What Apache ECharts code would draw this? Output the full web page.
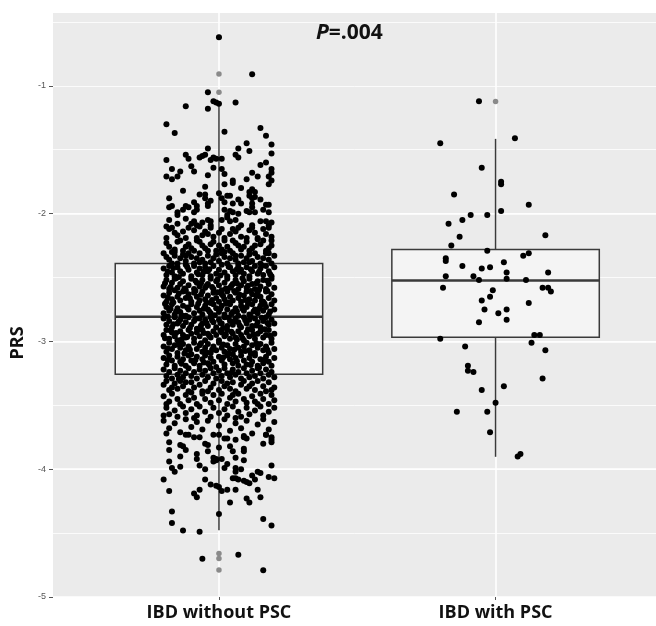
<!DOCTYPE html>
<html>
<head>
<meta charset="utf-8">
<script src="https://cdn.jsdelivr.net/npm/echarts@6/dist/echarts.min.js"></script>
<style>
  html, body { margin: 0; padding: 0; background: #fff; }
  #chart { width: 656px; height: 626px; }
</style>
</head>
<body>
<div id="chart"></div>
<script>
const categories = ['IBD without PSC', 'IBD with PSC']
const yTicks = [-5, -4, -3, -2, -1]

// box stats per group: lower whisker, Q1, median, Q3, upper whisker
const boxWithoutPsc = [-4.477, -3.256, -2.807, -2.39, -1.138]
const boxWithPsc = [-3.903, -2.967, -2.523, -2.28, -1.415]

// boxplot outliers (drawn at group centre)
const outliersWithoutPsc = [-0.62, -0.908, -1.05, -4.659, -4.698, -4.789]
const outliersWithPsc = [-1.122]

// jittered points: [offset from group centre, PRS]
const jitterWithoutPscTop = [
  [0,-0.62],[0.12,-0.91],[-0.04,-1.05],[-0.02,-1.12],[-0.01,-1.13],[0,-1.14],[0.06,-1.13],[-0.12,-1.16],[-0.04,-1.18],
  [-0.19,-1.3],[-0.16,-1.37],[0.15,-1.33],[0.02,-1.36],[0.17,-1.39],[0.19,-1.46],[0.1,-1.45],[0.07,-1.49],[-0.04,-1.49],[0.11,-1.51],
  [0.19,-1.53],[0.06,-1.54],[0.07,-1.56],[-0.12,-1.54],[-0.11,-1.57],[-0.19,-1.58],[-0.07,-1.56],[-0.06,-1.55],[-0.05,-1.54],
  [-0.03,-1.58],[-0.02,-1.56],[-0.01,-1.57],[0.01,-1.57],[-0.02,-1.64],[-0.1,-1.63],[-0.09,-1.67],[-0.17,-1.65],[-0.14,-1.67],
  [-0.19,-1.71],[-0.17,-1.73],[-0.15,-1.71],[0.01,-1.65],[0.02,-1.69],[-0.04,-1.7],[0.15,-1.62],[0.17,-1.6],[0.12,-1.68],
  [0.14,-1.71],[0.19,-1.65],[0.19,-1.68],[0.18,-1.71],[0.19,-1.74],[0.18,-1.77],[0.1,-1.73],[0.05,-1.74],[0.05,-1.76],
  [0.08,-1.8],[0.02,-1.77],[-0.05,-1.79],[-0.13,-1.82],[-0.18,-1.88],[-0.17,-1.94],[-0.18,-1.95],[-0.07,-1.85],[-0.05,-1.85],
  [-0.05,-1.88],[-0.04,-1.92],[-0.03,-1.9],[-0.04,-1.94],[-0.09,-1.91],[-0.08,-1.94],[-0.08,-1.97],[-0.09,-1.99],[-0.12,-1.94],
  [-0.11,-1.95],[-0.13,-1.97],[-0.15,-1.99],[0,-1.84],[0.01,-1.88],[0.03,-1.86],[0.04,-1.86],[0.02,-1.91],[0.05,-1.92],
  [0.07,-1.89],[0.08,-1.92],[0.11,-1.83],[0.12,-1.81],[0.13,-1.83],[0.11,-1.86],[0.12,-1.88],[0.13,-1.87],[0.12,-1.92],
  [0.12,-1.95],[0.15,-1.89],[0.17,-1.93],[0.16,-1.97],[0.18,-1.93],[0.18,-1.99],[0.1,-1.98],[0.11,-1.99],[0.13,-1.99],
  [0.04,-1.98],[0.05,-1.99],[0.07,-2.0],[0.02,-1.97],[0.03,-2.01],[-0.18,-2.05],[-0.19,-2.1],[-0.12,-2.04],[-0.1,-2.08],
  [-0.09,-2.06],[-0.08,-2.09],[-0.07,-2.1],[-0.06,-2.07],[-0.04,-2.05],[-0.03,-2.06],[-0.03,-2.09],[0.01,-2.05],[0.03,-2.03],
  [0.04,-2.06],[0.06,-2.05],[0.08,-2.09],[0.12,-2.09],[0.15,-2.06],[0.17,-2.06],[0.18,-2.09],[0.19,-2.07],[-0.15,-2.08],[-0.15,-2.01]
]

const jitterWithoutPscMid = [
  [-0.18,-2.12],[-0.15,-2.17],[-0.11,-2.11],[-0.08,-2.19],[-0.05,-2.14],[-0.02,-2.18],[0.01,-2.12],[0.04,-2.16],[0.07,-2.11],
  [0.1,-2.19],[0.13,-2.15],[0.16,-2.12],[0.19,-2.18],[-0.19,-2.19],[-0.13,-2.14],[-0.09,-2.13],[-0.03,-2.11],[0.02,-2.19],
  [0.06,-2.14],[0.11,-2.13],[0.17,-2.16],[-0.16,-2.15],[-0.06,-2.17],[0.08,-2.18],[0.14,-2.19],[-0.12,-2.19],[0,-2.15],
  [0.18,-2.11],[-0.17,-2.11],[0.05,-2.12],[-0.04,-2.16],[0.12,-2.11],
  [-0.19,-2.23],[-0.16,-2.28],[-0.14,-2.21],[-0.12,-2.26],[-0.09,-2.29],[-0.07,-2.22],[-0.05,-2.27],[-0.03,-2.24],[-0.01,-2.29],
  [0.02,-2.21],[0.03,-2.26],[0.06,-2.23],[0.08,-2.28],[0.1,-2.22],[0.12,-2.27],[0.15,-2.24],[0.17,-2.29],[0.19,-2.21],
  [-0.18,-2.26],[-0.15,-2.22],[-0.11,-2.24],[-0.08,-2.21],[-0.04,-2.29],[0,-2.25],[0.04,-2.29],[0.07,-2.25],[0.11,-2.29],
  [0.14,-2.2],[0.18,-2.27],[-0.17,-2.3],[-0.13,-2.29],[-0.06,-2.25],[0.05,-2.21],[0.09,-2.26],[0.13,-2.25],[0.16,-2.21],
  [-0.02,-2.22],[-0.1,-2.27],[0.19,-2.25],[0.01,-2.28],
  [-0.2,-2.31],[-0.18,-2.36],[-0.16,-2.33],[-0.15,-2.39],[-0.13,-2.32],[-0.12,-2.37],[-0.1,-2.34],[-0.09,-2.39],[-0.07,-2.31],
  [-0.06,-2.36],[-0.04,-2.33],[-0.03,-2.38],[-0.01,-2.32],[0,-2.37],[0.02,-2.34],[0.03,-2.39],[0.05,-2.31],[0.06,-2.36],
  [0.08,-2.33],[0.09,-2.38],[0.11,-2.32],[0.12,-2.37],[0.14,-2.34],[0.15,-2.39],[0.17,-2.31],[0.18,-2.36],[0.2,-2.33],
  [-0.19,-2.34],[-0.17,-2.39],[-0.14,-2.35],[-0.11,-2.31],[-0.08,-2.35],[-0.05,-2.39],[-0.02,-2.35],[0.01,-2.31],[0.04,-2.35],
  [0.07,-2.39],[0.1,-2.35],[0.13,-2.31],[0.16,-2.35],[0.19,-2.39],[-0.16,-2.3],[-0.07,-2.38],[0.02,-2.3],[0.11,-2.38],
  [0.18,-2.31],[-0.12,-2.33],[0.06,-2.33],
  [-0.2,-2.43],[-0.19,-2.48],[-0.18,-2.41],[-0.17,-2.46],[-0.16,-2.49],[-0.15,-2.42],[-0.14,-2.45],[-0.13,-2.47],[-0.12,-2.4],
  [-0.11,-2.44],[-0.1,-2.49],[-0.09,-2.41],[-0.08,-2.46],[-0.07,-2.43],[-0.06,-2.48],[-0.05,-2.42],[-0.04,-2.45],[-0.03,-2.49],
  [-0.02,-2.41],[-0.01,-2.47],[0,-2.44],[0.01,-2.4],[0.02,-2.46],[0.03,-2.49],[0.04,-2.42],[0.05,-2.45],[0.06,-2.48],
  [0.07,-2.41],[0.08,-2.44],[0.09,-2.47],[0.1,-2.42],[0.11,-2.49],[0.12,-2.45],[0.13,-2.41],[0.14,-2.47],[0.15,-2.43],
  [0.16,-2.48],[0.17,-2.41],[0.18,-2.45],[0.19,-2.49],[0.2,-2.42],[-0.185,-2.455],[-0.145,-2.495],[-0.115,-2.415],
  [-0.075,-2.475],[-0.035,-2.435],[0.005,-2.485],[0.035,-2.415],[0.075,-2.455],[0.115,-2.435],[0.155,-2.405],[0.185,-2.475],
  [-0.165,-2.425],[-0.055,-2.455],[0.065,-2.435],[0.145,-2.455],
  [-0.2,-2.57],[-0.19,-2.52],[-0.18,-2.59],[-0.17,-2.54],[-0.16,-2.51],[-0.15,-2.58],[-0.14,-2.55],[-0.13,-2.53],[-0.12,-2.6],
  [-0.11,-2.56],[-0.1,-2.51],[-0.09,-2.59],[-0.08,-2.54],[-0.07,-2.57],[-0.06,-2.52],[-0.05,-2.58],[-0.04,-2.55],[-0.03,-2.51],
  [-0.02,-2.59],[-0.01,-2.53],[0,-2.56],[0.01,-2.6],[0.02,-2.54],[0.03,-2.51],[0.04,-2.58],[0.05,-2.55],[0.06,-2.52],
  [0.07,-2.59],[0.08,-2.56],[0.09,-2.53],[0.1,-2.58],[0.11,-2.51],[0.12,-2.55],[0.13,-2.59],[0.14,-2.53],[0.15,-2.57],
  [0.16,-2.52],[0.17,-2.59],[0.18,-2.55],[0.19,-2.51],[0.2,-2.58],[-0.195,-2.545],[-0.155,-2.505],[-0.125,-2.585],
  [-0.085,-2.525],[-0.045,-2.565],[-0.005,-2.515],[0.025,-2.585],[0.065,-2.545],[0.105,-2.565],[0.145,-2.595],[0.175,-2.525],
  [-0.175,-2.575],[-0.065,-2.545],[0.045,-2.565],[0.135,-2.545],[-0.025,-2.575],[0.085,-2.505],
  [-0.2,-2.64],[-0.19,-2.69],[-0.18,-2.62],[-0.17,-2.67],[-0.16,-2.6],[-0.15,-2.65],[-0.14,-2.68],[-0.13,-2.61],[-0.12,-2.66],
  [-0.11,-2.63],[-0.1,-2.69],[-0.09,-2.62],[-0.08,-2.65],[-0.07,-2.68],[-0.06,-2.61],[-0.05,-2.67],[-0.04,-2.64],[-0.03,-2.7],
  [-0.02,-2.62],[-0.01,-2.66],[0,-2.69],[0.01,-2.63],[0.02,-2.67],[0.03,-2.61],[0.04,-2.65],[0.05,-2.68],[0.06,-2.62],
  [0.07,-2.66],[0.08,-2.69],[0.09,-2.64],[0.1,-2.61],[0.11,-2.67],[0.12,-2.63],[0.13,-2.68],[0.14,-2.62],[0.15,-2.65],
  [0.16,-2.69],[0.17,-2.61],[0.18,-2.66],[0.19,-2.63],[0.2,-2.68],[-0.185,-2.655],[-0.145,-2.625],[-0.105,-2.665],
  [-0.065,-2.635],[-0.025,-2.675],[0.015,-2.645],[0.055,-2.605],[0.095,-2.675],[0.135,-2.645],[0.175,-2.605],[-0.165,-2.695],
  [-0.125,-2.605],[-0.045,-2.695],[0.035,-2.695],[0.115,-2.605],[0.155,-2.685],[-0.085,-2.605],[0.075,-2.635],[-0.005,-2.615],
  [-0.2,-2.78],[-0.19,-2.73],[-0.18,-2.76],[-0.17,-2.71],[-0.16,-2.79],[-0.15,-2.74],[-0.14,-2.77],[-0.13,-2.72],[-0.12,-2.8],
  [-0.11,-2.75],[-0.1,-2.71],[-0.09,-2.78],[-0.08,-2.73],[-0.07,-2.76],[-0.06,-2.79],[-0.05,-2.72],[-0.04,-2.75],[-0.03,-2.78],
  [-0.02,-2.71],[-0.01,-2.74],[0,-2.77],[0.01,-2.72],[0.02,-2.79],[0.03,-2.75],[0.04,-2.71],[0.05,-2.77],[0.06,-2.74],
  [0.07,-2.8],[0.08,-2.72],[0.09,-2.76],[0.1,-2.73],[0.11,-2.79],[0.12,-2.71],[0.13,-2.75],[0.14,-2.78],[0.15,-2.72],
  [0.16,-2.76],[0.17,-2.73],[0.18,-2.79],[0.19,-2.71],[0.2,-2.75],[-0.195,-2.705],[-0.155,-2.765],[-0.115,-2.735],
  [-0.075,-2.705],[-0.035,-2.765],[0.005,-2.745],[0.045,-2.785],[0.085,-2.745],[0.125,-2.765],[0.165,-2.705],[-0.175,-2.745],
  [-0.135,-2.795],[-0.055,-2.745],[0.025,-2.705],[0.065,-2.765],[0.105,-2.705],[0.145,-2.745],[0.185,-2.765],[-0.015,-2.795],
  [-0.2,-2.82],[-0.19,-2.87],[-0.18,-2.84],[-0.17,-2.89],[-0.16,-2.81],[-0.15,-2.86],[-0.14,-2.83],[-0.13,-2.88],[-0.12,-2.85],
  [-0.11,-2.81],[-0.1,-2.87],[-0.09,-2.84],[-0.08,-2.9],[-0.07,-2.82],[-0.06,-2.86],[-0.05,-2.83],[-0.04,-2.88],[-0.03,-2.81],
  [-0.02,-2.85],[-0.01,-2.89],[0,-2.83],[0.01,-2.86],[0.02,-2.81],[0.03,-2.88],[0.04,-2.84],[0.05,-2.87],[0.06,-2.82],
  [0.07,-2.85],[0.08,-2.89],[0.09,-2.81],[0.1,-2.86],[0.11,-2.83],[0.12,-2.88],[0.13,-2.82],[0.14,-2.85],[0.15,-2.89],
  [0.16,-2.84],[0.17,-2.81],[0.18,-2.87],[0.19,-2.83],[0.2,-2.86],[-0.185,-2.805],[-0.145,-2.845],[-0.105,-2.895],
  [-0.065,-2.875],[-0.025,-2.835],[0.015,-2.895],[0.055,-2.845],[0.095,-2.835],[0.135,-2.875],[0.175,-2.855],[-0.165,-2.865],
  [-0.125,-2.805],[-0.045,-2.855],[0.035,-2.815],[0.075,-2.875],[0.115,-2.805],[0.155,-2.815],[-0.085,-2.825],[0.005,-2.855],
  [-0.2,-2.95],[-0.19,-2.91],[-0.18,-2.98],[-0.17,-2.93],[-0.16,-2.96],[-0.15,-2.99],[-0.14,-2.92],[-0.13,-2.95],[-0.12,-2.97],
  [-0.11,-2.91],[-0.1,-2.94],[-0.09,-2.98],[-0.08,-2.93],[-0.07,-2.96],[-0.06,-2.91],[-0.05,-2.99],[-0.04,-2.94],[-0.03,-2.97],
  [-0.02,-2.92],[-0.01,-2.95],[0,-2.99],[0.01,-2.93],[0.02,-2.96],[0.03,-2.91],[0.04,-2.98],[0.05,-2.94],[0.06,-2.97],
  [0.07,-2.92],[0.08,-2.95],[0.09,-2.99],[0.1,-2.93],[0.11,-2.96],[0.12,-2.91],[0.13,-2.98],[0.14,-2.94],[0.15,-2.92],
  [0.16,-2.97],[0.17,-2.95],[0.18,-2.91],[0.19,-2.98],[0.2,-2.94],[-0.195,-2.975],[-0.155,-2.935],[-0.115,-2.965],
  [-0.075,-2.905],[-0.035,-2.955],[0.005,-2.915],[0.045,-2.925],[0.085,-2.975],[0.125,-2.945],[0.165,-2.905],[-0.175,-2.915],
  [-0.135,-2.985],[-0.055,-2.935],[0.025,-2.945],[0.065,-2.985],[0.105,-2.905],[0.185,-2.955],
  [-0.2,-3.04],[-0.19,-3.08],[-0.18,-3.01],[-0.17,-3.06],[-0.16,-3.03],[-0.15,-3.09],[-0.14,-3.05],[-0.13,-3.02],[-0.12,-3.07],
  [-0.11,-3.04],[-0.1,-3.1],[-0.09,-3.01],[-0.08,-3.06],[-0.07,-3.03],[-0.06,-3.08],[-0.05,-3.05],[-0.04,-3.02],[-0.03,-3.09],
  [-0.02,-3.04],[-0.01,-3.07],[0,-3.01],[0.01,-3.05],[0.02,-3.08],[0.03,-3.03],[0.04,-3.06],[0.05,-3.1],[0.06,-3.02],
  [0.07,-3.05],[0.08,-3.08],[0.09,-3.04],[0.1,-3.01],[0.11,-3.07],[0.12,-3.03],[0.13,-3.09],[0.14,-3.05],[0.15,-3.02],
  [0.16,-3.07],[0.17,-3.04],[0.18,-3.09],[0.19,-3.01],[0.2,-3.06],[-0.185,-3.055],[-0.145,-3.025],[-0.105,-3.065],
  [-0.065,-3.015],[-0.025,-3.065],[0.015,-3.025],[0.055,-3.065],[0.095,-3.075],[0.135,-3.015],[0.175,-3.065],[-0.125,-3.095],
  [-0.045,-3.085],[0.035,-3.095],[0.115,-3.095],
  [-0.2,-3.13],[-0.19,-3.18],[-0.18,-3.11],[-0.17,-3.15],[-0.16,-3.19],[-0.15,-3.12],[-0.14,-3.16],[-0.13,-3.14],[-0.12,-3.19],
  [-0.11,-3.11],[-0.1,-3.15],[-0.09,-3.17],[-0.08,-3.12],[-0.07,-3.19],[-0.06,-3.14],[-0.05,-3.11],[-0.04,-3.17],[-0.03,-3.13],
  [-0.02,-3.16],[-0.01,-3.2],[0,-3.12],[0.01,-3.15],[0.02,-3.18],[0.03,-3.11],[0.04,-3.14],[0.05,-3.17],[0.06,-3.13],
  [0.07,-3.19],[0.08,-3.11],[0.09,-3.15],[0.1,-3.18],[0.11,-3.13],[0.12,-3.16],[0.13,-3.11],[0.14,-3.19],[0.15,-3.14],
  [0.16,-3.17],[0.17,-3.12],[0.18,-3.16],[0.19,-3.19],[0.2,-3.13],[-0.185,-3.145],[-0.135,-3.175],[-0.085,-3.145],
  [-0.035,-3.185],[0.015,-3.125],[0.065,-3.155],[0.115,-3.185],[0.165,-3.145],[-0.055,-3.165],
  [-0.2,-3.22],[-0.19,-3.27],[-0.18,-3.24],[-0.17,-3.29],[-0.16,-3.21],[-0.15,-3.26],[-0.14,-3.23],[-0.13,-3.28],[-0.12,-3.25],
  [-0.11,-3.21],[-0.1,-3.27],[-0.09,-3.24],[-0.08,-3.29],[-0.07,-3.22],[-0.06,-3.26],[-0.05,-3.23],[-0.04,-3.28],[-0.03,-3.21],
  [-0.02,-3.25],[-0.01,-3.29],[0,-3.23],[0.01,-3.27],[0.02,-3.21],[0.03,-3.25],[0.04,-3.28],[0.05,-3.22],[0.06,-3.26],
  [0.07,-3.24],[0.08,-3.29],[0.09,-3.21],[0.1,-3.25],[0.11,-3.28],[0.12,-3.23],[0.13,-3.27],[0.14,-3.21],[0.15,-3.25],
  [0.16,-3.29],[0.17,-3.22],[0.18,-3.26],[0.19,-3.24],[0.2,-3.28],[-0.145,-3.295],[0.045,-3.245],[0.145,-3.205],
  [-0.2,-3.34],[-0.19,-3.31],[-0.18,-3.38],[-0.16,-3.33],[-0.15,-3.37],[-0.14,-3.31],[-0.13,-3.35],[-0.11,-3.39],[-0.1,-3.32],
  [-0.09,-3.36],[-0.07,-3.34],[-0.06,-3.39],[-0.05,-3.31],[-0.03,-3.36],[-0.02,-3.33],[0,-3.38],[0.01,-3.31],[0.02,-3.35],
  [0.04,-3.37],[0.05,-3.32],[0.06,-3.39],[0.08,-3.34],[0.09,-3.31],[0.1,-3.37],[0.12,-3.33],[0.13,-3.38],[0.14,-3.31],
  [0.16,-3.35],[0.17,-3.39],[0.18,-3.32],[0.2,-3.36],[-0.17,-3.36],[-0.12,-3.32],[-0.04,-3.39],[0.03,-3.33],[0.11,-3.35],[0.19,-3.38],
  [-0.2,-3.43],[-0.18,-3.47],[-0.17,-3.41],[-0.15,-3.45],[-0.14,-3.49],[-0.12,-3.42],[-0.11,-3.46],[-0.09,-3.44],[-0.08,-3.49],
  [-0.06,-3.41],[-0.05,-3.45],[-0.03,-3.48],[-0.02,-3.42],[0,-3.46],[0.01,-3.41],[0.03,-3.49],[0.04,-3.44],[0.06,-3.47],
  [0.07,-3.41],[0.09,-3.45],[0.1,-3.48],[0.12,-3.43],[0.13,-3.47],[0.15,-3.41],[0.16,-3.45],[0.18,-3.49],[0.19,-3.42],
  [0.2,-3.46],[-0.19,-3.49],[-0.1,-3.4],[0.05,-3.42],[0.14,-3.49],
  [-0.19,-3.52],[-0.18,-3.57],[-0.16,-3.54],[-0.15,-3.59],[-0.13,-3.51],[-0.12,-3.56],[-0.1,-3.53],[-0.08,-3.58],[-0.07,-3.51],
  [-0.05,-3.55],[-0.03,-3.59],[-0.02,-3.52],[0,-3.56],[0.02,-3.53],[0.03,-3.58],[0.05,-3.51],[0.07,-3.55],[0.08,-3.59],
  [0.1,-3.52],[0.11,-3.57],[0.13,-3.54],[0.15,-3.51],[0.16,-3.58],[0.18,-3.55],[0.2,-3.52],[-0.2,-3.58],[0.06,-3.6],[-0.09,-3.6],
  [-0.2,-3.62],[-0.18,-3.68],[-0.16,-3.64],[-0.14,-3.71],[-0.12,-3.61],[-0.1,-3.67],[-0.08,-3.63],[-0.06,-3.69],[-0.04,-3.62],
  [-0.02,-3.73],[0,-3.66],[0.02,-3.61],[0.04,-3.7],[0.06,-3.64],[0.08,-3.68],[0.1,-3.62],[0.12,-3.72],[0.14,-3.65],
  [0.16,-3.61],[0.18,-3.69],[0.2,-3.63],[-0.11,-3.73],[-0.19,-3.72],[0.09,-3.74],[0.17,-3.73]
]

const jitterWithoutPscLow = [
  [-0.12,-3.73],[-0.09,-3.75],[-0.07,-3.75],[0,-3.73],[0.02,-3.76],[0.03,-3.76],[0.06,-3.77],[0.09,-3.75],[0.1,-3.76],
  [0.17,-3.73],[0.19,-3.75],[0.19,-3.77],[0.19,-3.79],
  [-0.18,-3.79],[-0.18,-3.85],[-0.14,-3.81],[-0.13,-3.82],[-0.12,-3.85],[-0.14,-3.9],[-0.05,-3.8],[-0.04,-3.81],[-0.04,-3.86],
  [-0.08,-3.88],[-0.08,-3.92],[-0.18,-3.94],[-0.17,-3.99],[-0.16,-4.02],[-0.14,-3.98],[-0.07,-3.97],[-0.05,-4.0],[-0.02,-3.91],
  [-0.01,-3.92],[-0.01,-3.93],[-0.02,-3.94],[0,-3.83],[0.04,-3.82],[0.05,-3.86],[0.01,-3.92],[0.03,-3.96],[0.02,-3.99],
  [0.06,-3.91],[0.09,-3.84],[0.09,-3.86],[0.09,-3.93],[0.06,-3.99],[0.06,-4.02],[0.08,-4.0],[0.05,-4.07],[0.06,-4.07],
  [0.07,-4.08],[0.09,-4.09],[0.1,-4.1],[0.11,-4.11],[0.12,-4.05],[0.13,-4.08],[0.14,-4.02],[0.15,-4.03],[0.16,-3.8],
  [0.18,-4.06],[0.2,-4.07],[0.19,-3.97],[-0.2,-4.08],[-0.05,-4.08],[-0.03,-4.12],[-0.01,-4.13],[0,-4.14],[0.01,-4.17],
  [0.03,-4.16],[0.06,-4.16],[0.14,-4.16],[-0.18,-4.17],[-0.09,-4.19],[-0.08,-4.22],[-0.07,-4.16],[0.04,-4.26],[0.1,-4.23],
  [0.11,-4.26],[0.15,-4.22],[-0.17,-4.33],[0,-4.35],[-0.17,-4.42],[0.16,-4.39],[0.19,-4.44],[-0.13,-4.48],[-0.07,-4.49],
  [-0.06,-4.7],[0.07,-4.67],[0.16,-4.79]
]

const jitterWithPsc = [
  [-0.06,-1.12],[-0.2,-1.45],[0.07,-1.41],[-0.05,-1.64],[0.02,-1.77],[0.02,-1.75],[-0.15,-1.85],[0.12,-1.93],[0.02,-1.98],
  [-0.09,-2.01],[-0.03,-2.01],[-0.12,-2.05],[-0.17,-2.08],[0.18,-2.17],[-0.13,-2.18],[-0.16,-2.25],[-0.03,-2.29],[0.12,-2.31],
  [0.1,-2.33],[-0.18,-2.35],[-0.18,-2.37],[-0.12,-2.41],[0.03,-2.38],[-0.05,-2.43],[-0.02,-2.42],[0.04,-2.46],[0.19,-2.46],
  [-0.18,-2.49],[-0.08,-2.49],[0.04,-2.51],[-0.06,-2.52],[0.11,-2.52],[-0.19,-2.58],[0.17,-2.58],[0.19,-2.58],[0.2,-2.61],
  [-0.01,-2.6],[-0.02,-2.65],[-0.05,-2.68],[0.12,-2.7],[-0.04,-2.75],[0.04,-2.75],[0.01,-2.78],[0.04,-2.83],[-0.06,-2.85],
  [0.14,-2.95],[0.16,-2.95],[-0.2,-2.98],[0.13,-3.01],[-0.11,-3.04],[0.18,-3.07],[-0.1,-3.19],[-0.1,-3.23],[-0.08,-3.24],
  [0.17,-3.29],[0.03,-3.35],[-0.05,-3.38],[0,-3.48],[-0.14,-3.55],[-0.03,-3.55],[-0.02,-3.71],[0.08,-3.9],[0.09,-3.88]
]

const BOX_WIDTH = 0.75
const boxLine = '#3a3a3a'

const boxData = [[1, ...boxWithoutPsc], [2, ...boxWithPsc]]
const outlierData = outliersWithoutPsc.map(v => [1, v]).concat(outliersWithPsc.map(v => [2, v]))
const jitterData = jitterWithoutPscTop.concat(jitterWithoutPscMid, jitterWithoutPscLow)
  .map(p => [1 + p[0], p[1]])
  .concat(jitterWithPsc.map(p => [2 + p[0], p[1]]))

const renderBox = (params, api) => {
  const x = api.value(0)
  const lo = api.coord([x, api.value(1)])
  const q1 = api.coord([x, api.value(2)])
  const med = api.coord([x, api.value(3)])
  const q3 = api.coord([x, api.value(4)])
  const hi = api.coord([x, api.value(5)])
  const half = api.size([BOX_WIDTH, 0])[0] / 2
  const line = { stroke: boxLine, lineWidth: 1.5 }
  return {
    type: 'group',
    children: [
      { type: 'line', shape: { x1: hi[0], y1: hi[1], x2: q3[0], y2: q3[1] }, style: line },
      { type: 'line', shape: { x1: q1[0], y1: q1[1], x2: lo[0], y2: lo[1] }, style: line },
      {
        type: 'rect',
        shape: { x: q3[0] - half, y: q3[1], width: half * 2, height: q1[1] - q3[1] },
        style: { fill: '#f4f4f4', stroke: boxLine, lineWidth: 1.5 }
      },
      {
        type: 'line',
        shape: { x1: med[0] - half, y1: med[1], x2: med[0] + half, y2: med[1] },
        style: { stroke: boxLine, lineWidth: 2.6 }
      }
    ]
  }
}

const chart = echarts.init(document.getElementById('chart'))
chart.setOption({
  animation: false,
  title: {
    text: '{i|P}{n|=.004}',
    left: 316,
    top: 23,
    padding: 0,
    textStyle: {
      rich: {
        i: { fontFamily: 'Open Sans', fontSize: 21, fontWeight: 'bold', fontStyle: 'italic', color: '#111' },
        n: { fontFamily: 'Open Sans', fontSize: 21, fontWeight: 'bold', color: '#111' }
      }
    }
  },
  graphic: [
    {
      type: 'text',
      x: 18,
      y: 343,
      rotation: Math.PI / 2,
      style: {
        text: 'PRS',
        fontFamily: 'Open Sans',
        fontSize: 18,
        fontWeight: 'bold',
        fill: '#111',
        textAlign: 'center',
        textVerticalAlign: 'middle'
      }
    }
  ],
  grid: {
    left: 53,
    right: 0,
    top: 13,
    bottom: 29,
    show: true,
    backgroundColor: '#ebebeb',
    borderWidth: 0
  },
  xAxis: {
    type: 'value',
    min: 0.4,
    max: 2.58,
    axisLine: { show: false },
    axisTick: { show: true, length: 3, lineStyle: { color: '#555' }, customValues: [1, 2] },
    axisLabel: {
      customValues: [1, 2],
      formatter: v => categories[Math.round(v) - 1],
      fontFamily: 'Open Sans',
      fontSize: 18,
      fontWeight: 'bold',
      color: '#111',
      margin: 7
    },
    splitLine: { show: true, lineStyle: { color: '#fff', width: 1.6 } }
  },
  yAxis: [
    {
      type: 'value',
      min: -5,
      max: -0.43,
      interval: 1,
      axisLine: { show: false },
      axisTick: { show: true, length: 4, lineStyle: { color: '#555' }, customValues: yTicks },
      axisLabel: { customValues: yTicks, color: '#555', fontSize: 9, margin: 7, fontFamily: 'Liberation Sans' },
      splitLine: { show: true, showMaxLine: false, lineStyle: { color: '#fff', width: 1.6 } }
    },
    {
      // minor grid lines at the half steps
      type: 'value',
      min: -5,
      max: -0.43,
      interval: 0.5,
      axisLine: { show: false },
      axisTick: { show: false },
      axisLabel: { show: false },
      splitLine: { show: true, showMaxLine: false, lineStyle: { color: '#fff', width: 0.8 } }
    }
  ],
  series: [
    {
      type: 'custom',
      renderItem: renderBox,
      data: boxData,
      encode: { x: 0, y: [1, 2, 3, 4, 5] },
      z: 2,
      silent: true
    },
    {
      type: 'scatter',
      data: outlierData,
      symbolSize: 5.5,
      itemStyle: { color: '#8a8a8a', opacity: 1 },
      z: 3,
      silent: true
    },
    {
      type: 'scatter',
      data: jitterData,
      symbolSize: 6,
      itemStyle: { color: '#000', opacity: 1 },
      z: 4,
      silent: true
    }
  ]
})
</script>
</body>
</html>
